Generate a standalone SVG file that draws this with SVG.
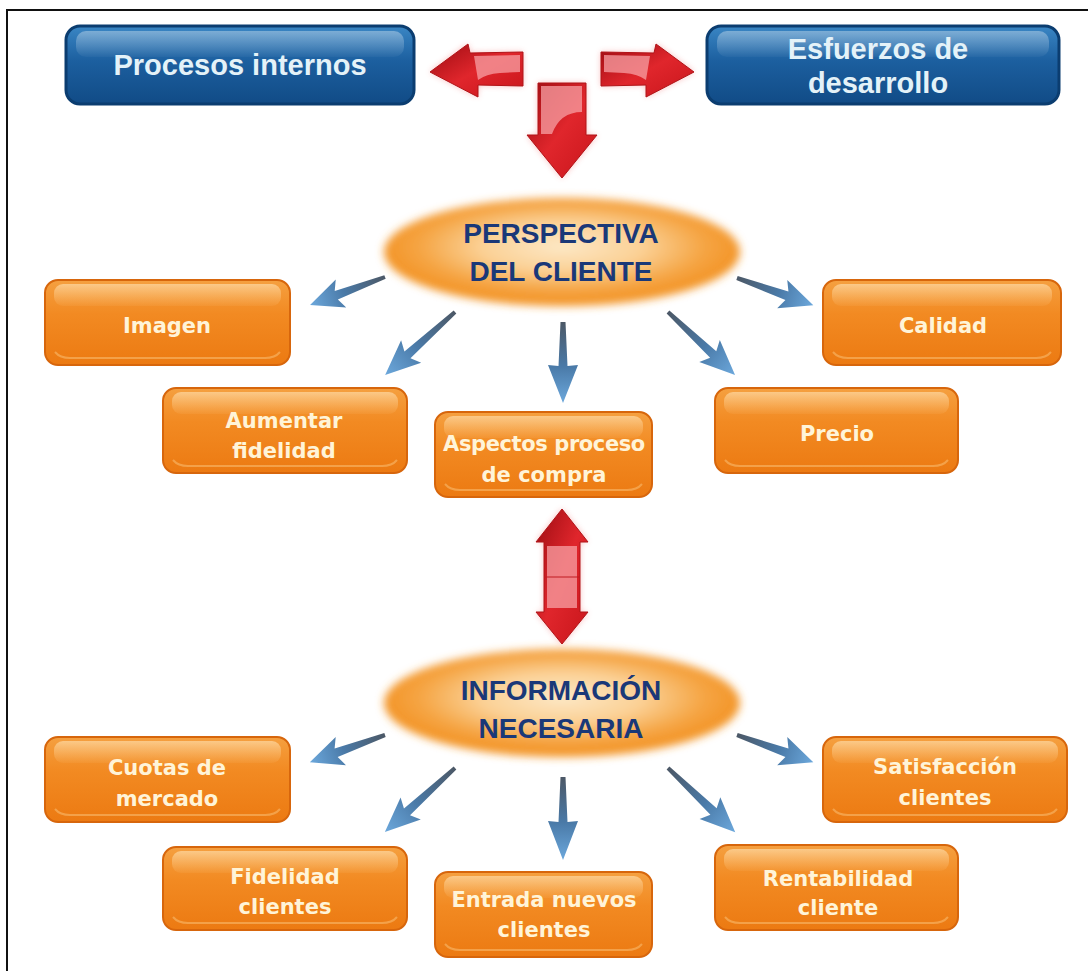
<svg xmlns="http://www.w3.org/2000/svg" width="1088" height="971" viewBox="0 0 1088 971">
  <defs>
    <style>
      .frame { fill: none; stroke: #111; stroke-width: 2; }
      .bbox { fill: url(#blueFill); stroke: #0b3d70; stroke-width: 3; }
      .bgloss { fill: url(#glossW); }
      .btxt { font-family: "Liberation Sans", Arial, sans-serif; font-weight: bold; font-size: 29px; fill: #e4f2f8; text-anchor: middle; }
      .obox { fill: url(#orangeFill); stroke: #d7660c; stroke-width: 2; }
      .ogloss { fill: url(#glossO); }
      .orim { fill: none; stroke: #f7b160; stroke-width: 2; opacity: 0.7; }
      .otxt { font-family: "DejaVu Sans", Verdana, sans-serif; font-weight: bold; font-size: 21px; fill: #fff4d8; text-anchor: middle; }
      .etxt { font-family: "Liberation Sans", Arial, sans-serif; font-weight: bold; font-size: 28px; fill: #1a3878; text-anchor: middle; }
      .barrow { fill: url(#blueArrow); }
      .rarrow { fill: url(#redFill); stroke: #b01418; stroke-width: 1; }
      .rhi { fill: #f7a0a4; opacity: 0.75; }
    </style>
    <linearGradient id="blueFill" x1="0" y1="0" x2="0" y2="1">
      <stop offset="0" stop-color="#3a86c4"/>
      <stop offset="0.45" stop-color="#1c5f9f"/>
      <stop offset="1" stop-color="#114b86"/>
    </linearGradient>
    <linearGradient id="glossW" x1="0" y1="0" x2="0" y2="1">
      <stop offset="0" stop-color="#ffffff" stop-opacity="0.35"/>
      <stop offset="1" stop-color="#ffffff" stop-opacity="0.03"/>
    </linearGradient>
    <linearGradient id="orangeFill" x1="0" y1="0" x2="0" y2="1">
      <stop offset="0" stop-color="#f5a040"/>
      <stop offset="0.4" stop-color="#f28a22"/>
      <stop offset="1" stop-color="#ec7a12"/>
    </linearGradient>
    <linearGradient id="glossO" x1="0" y1="0" x2="0" y2="1">
      <stop offset="0" stop-color="#ffe0b0" stop-opacity="0.65"/>
      <stop offset="1" stop-color="#ffd090" stop-opacity="0.08"/>
    </linearGradient>
    <radialGradient id="ellFill" cx="0.5" cy="0.45" r="0.5">
      <stop offset="0" stop-color="#fde8c6"/>
      <stop offset="0.45" stop-color="#fbd196"/>
      <stop offset="0.8" stop-color="#f5a544"/>
      <stop offset="1" stop-color="#f39528"/>
    </radialGradient>
    <filter id="soft" x="-20%" y="-40%" width="140%" height="180%">
      <feGaussianBlur stdDeviation="4"/>
    </filter>
    <filter id="glow" x="-30%" y="-30%" width="160%" height="160%">
      <feGaussianBlur stdDeviation="3"/>
    </filter>
    <linearGradient id="blueArrow" x1="0" y1="0" x2="1" y2="0">
      <stop offset="0" stop-color="#4c5866"/>
      <stop offset="0.55" stop-color="#4a7aa8"/>
      <stop offset="1" stop-color="#6ca8dc"/>
    </linearGradient>
    <linearGradient id="redFill" x1="0" y1="0" x2="1" y2="1">
      <stop offset="0" stop-color="#9c0c12"/>
      <stop offset="0.5" stop-color="#e0262c"/>
      <stop offset="1" stop-color="#c8151b"/>
    </linearGradient>
  </defs>

  <!-- page frame -->
  <path class="frame" d="M7,971 V10 H1088"/>

  <!-- top blue boxes -->
  <g id="procesos-internos">
    <rect class="bbox" x="66" y="26" width="348" height="78" rx="14"/>
    <rect class="bgloss" x="76" y="31" width="328" height="26" rx="10"/>
    <text class="btxt" x="240" y="75">Procesos internos</text>
  </g>
  <g id="esfuerzos-desarrollo">
    <rect class="bbox" x="707" y="26" width="352" height="78" rx="14"/>
    <rect class="bgloss" x="717" y="31" width="332" height="26" rx="10"/>
    <text class="btxt" x="878" y="59">Esfuerzos de</text>
    <text class="btxt" x="878" y="93">desarrollo</text>
  </g>

  <!-- perspective ellipse -->
  <g id="perspectiva-cliente">
    <ellipse cx="562" cy="252" rx="178" ry="54" fill="url(#ellFill)" filter="url(#soft)"/>
    <text class="etxt" x="561" y="243">PERSPECTIVA</text>
    <text class="etxt" x="561" y="281">DEL CLIENTE</text>
  </g>

  <!-- information ellipse -->
  <g id="informacion-necesaria">
    <ellipse cx="562" cy="703" rx="178" ry="54" fill="url(#ellFill)" filter="url(#soft)"/>
    <text class="etxt" x="561" y="700">INFORMACIÓN</text>
    <text class="etxt" x="561" y="738">NECESARIA</text>
  </g>

  <!-- orange boxes: upper group -->
  <g id="imagen">
    <rect class="obox" x="45" y="280" width="245" height="85" rx="13"/>
    <rect class="ogloss" x="54" y="284" width="227" height="22" rx="9"/>
    <path class="orim" d="M55,352 Q60,358 70,358 H265 Q275,358 280,352"/>
    <text class="otxt" x="167" y="333">Imagen</text>
  </g>
  <g id="aumentar-fidelidad">
    <rect class="obox" x="163" y="388" width="244" height="85" rx="13"/>
    <rect class="ogloss" x="172" y="392" width="226" height="22" rx="9"/>
    <path class="orim" d="M173,460 Q178,466 188,466 H382 Q392,466 397,460"/>
    <text class="otxt" x="284" y="428">Aumentar</text>
    <text class="otxt" x="284" y="458">fidelidad</text>
  </g>
  <g id="aspectos-compra">
    <rect class="obox" x="435" y="412" width="217" height="85" rx="13"/>
    <rect class="ogloss" x="444" y="416" width="199" height="22" rx="9"/>
    <path class="orim" d="M445,484 Q450,490 460,490 H627 Q637,490 642,484"/>
    <text class="otxt" x="544" y="451" letter-spacing="-0.4">Aspectos proceso</text>
    <text class="otxt" x="544" y="482">de compra</text>
  </g>
  <g id="calidad">
    <rect class="obox" x="823" y="280" width="238" height="85" rx="13"/>
    <rect class="ogloss" x="832" y="284" width="220" height="22" rx="9"/>
    <path class="orim" d="M833,352 Q838,358 848,358 H1036 Q1046,358 1051,352"/>
    <text class="otxt" x="943" y="333">Calidad</text>
  </g>
  <g id="precio">
    <rect class="obox" x="715" y="388" width="243" height="85" rx="13"/>
    <rect class="ogloss" x="724" y="392" width="225" height="22" rx="9"/>
    <path class="orim" d="M725,460 Q730,466 740,466 H933 Q943,466 948,460"/>
    <text class="otxt" x="837" y="441">Precio</text>
  </g>

  <!-- orange boxes: lower group -->
  <g id="cuotas-mercado">
    <rect class="obox" x="45" y="737" width="245" height="85" rx="13"/>
    <rect class="ogloss" x="54" y="741" width="227" height="22" rx="9"/>
    <path class="orim" d="M55,809 Q60,815 70,815 H265 Q275,815 280,809"/>
    <text class="otxt" x="167" y="775">Cuotas de</text>
    <text class="otxt" x="167" y="806">mercado</text>
  </g>
  <g id="fidelidad-clientes">
    <rect class="obox" x="163" y="847" width="244" height="83" rx="13"/>
    <rect class="ogloss" x="172" y="851" width="226" height="22" rx="9"/>
    <path class="orim" d="M173,917 Q178,923 188,923 H382 Q392,923 397,917"/>
    <text class="otxt" x="285" y="884">Fidelidad</text>
    <text class="otxt" x="285" y="914">clientes</text>
  </g>
  <g id="entrada-clientes">
    <rect class="obox" x="435" y="872" width="217" height="85" rx="13"/>
    <rect class="ogloss" x="444" y="876" width="199" height="22" rx="9"/>
    <path class="orim" d="M445,944 Q450,950 460,950 H627 Q637,950 642,944"/>
    <text class="otxt" x="544" y="907">Entrada nuevos</text>
    <text class="otxt" x="544" y="937">clientes</text>
  </g>
  <g id="satisfaccion-clientes">
    <rect class="obox" x="823" y="737" width="244" height="85" rx="13"/>
    <rect class="ogloss" x="832" y="741" width="226" height="22" rx="9"/>
    <path class="orim" d="M833,809 Q838,815 848,815 H1042 Q1052,815 1057,809"/>
    <text class="otxt" x="945" y="774">Satisfacción</text>
    <text class="otxt" x="945" y="805">clientes</text>
  </g>
  <g id="rentabilidad-cliente">
    <rect class="obox" x="715" y="845" width="243" height="85" rx="13"/>
    <rect class="ogloss" x="724" y="849" width="225" height="22" rx="9"/>
    <path class="orim" d="M725,917 Q730,923 740,923 H933 Q943,923 948,917"/>
    <text class="otxt" x="838" y="886">Rentabilidad</text>
    <text class="otxt" x="838" y="915">cliente</text>
  </g>

  <!-- connectors -->
  <g id="connectors">
    <!-- red 3D arrows between the top boxes and the perspective -->
    <g id="red-arrows">
      <g opacity="0.35" filter="url(#glow)" fill="#f04040">
        <path d="M430,72 L468,44 L470,53 L523,52 L523,86 L478,85 L478,97 Z"/>
        <path d="M694,72 L656,44 L654,53 L601,52 L601,86 L646,85 L646,97 Z"/>
        <path d="M538,83 H586 V135 H597 L562,178 L527,135 H538 Z"/>
        <path d="M562,509 L588,542 H580 V612 H588 L562,644 L536,612 H544 V542 H536 Z"/>
      </g>
      <path class="rarrow" d="M430,72 L468,44 L470,53 L523,52 L523,86 L478,85 L478,97 Z"/>
      <path class="rhi" d="M474,56 L520,55 L520,72 L500,73 Q486,74 478,80 Z"/>
      <path class="rarrow" d="M694,72 L656,44 L654,53 L601,52 L601,86 L646,85 L646,97 Z"/>
      <path class="rhi" d="M650,56 L604,55 L604,72 L624,73 Q638,74 646,80 Z"/>
      <path class="rarrow" d="M538,83 H586 V135 H597 L562,178 L527,135 H538 Z"/>
      <path class="rhi" d="M541,86 H582 V112 Q560,112 552,134 H541 Z"/>
      <path class="rarrow" d="M562,509 L588,542 H580 V612 H588 L562,644 L536,612 H544 V542 H536 Z"/>
      <path class="rhi" d="M547,546 H577 V608 H547 Z"/>
      <path d="M544,577 H580" stroke="#c01a20" stroke-width="1"/>
    </g>

    <!-- blue arrows from the perspective -->
    <g id="blue-arrows-upper">
      <path class="barrow" transform="translate(385,277) rotate(159.5)" d="M0,-2 L52,-4.5 L47,-15 L80,0 L47,15 L52,4.5 L0,2 Z"/>
      <path class="barrow" transform="translate(455,312) rotate(138)" d="M0,-2 L64,-4.5 L59,-15 L94,0 L59,15 L64,4.5 L0,2 Z"/>
      <path class="barrow" transform="translate(563,322) rotate(90)" d="M0,-2.5 L44,-4.5 L43,-15 L81,0 L43,15 L44,4.5 L0,2.5 Z"/>
      <path class="barrow" transform="translate(737,278) rotate(19.6)" d="M0,-2 L53,-4.5 L48,-15 L81,0 L48,15 L53,4.5 L0,2 Z"/>
      <path class="barrow" transform="translate(668,312) rotate(43.2)" d="M0,-2 L62,-4.5 L57,-15 L92,0 L57,15 L62,4.5 L0,2 Z"/>
    </g>

    <!-- blue arrows from the information ellipse -->
    <g id="blue-arrows-lower">
      <path class="barrow" transform="translate(385,735) rotate(160)" d="M0,-2 L52,-4.5 L47,-15 L80,0 L47,15 L52,4.5 L0,2 Z"/>
      <path class="barrow" transform="translate(455,768) rotate(137.6)" d="M0,-2 L65,-4.5 L60,-15 L95,0 L60,15 L65,4.5 L0,2 Z"/>
      <path class="barrow" transform="translate(563,777) rotate(90)" d="M0,-2.5 L45,-4.5 L44,-15 L83,0 L44,15 L45,4.5 L0,2.5 Z"/>
      <path class="barrow" transform="translate(737,735) rotate(19.6)" d="M0,-2 L53,-4.5 L48,-15 L81,0 L48,15 L53,4.5 L0,2 Z"/>
      <path class="barrow" transform="translate(668,768) rotate(43.7)" d="M0,-2 L63,-4.5 L58,-15 L93,0 L58,15 L63,4.5 L0,2 Z"/>
    </g>
  </g>
</svg>
